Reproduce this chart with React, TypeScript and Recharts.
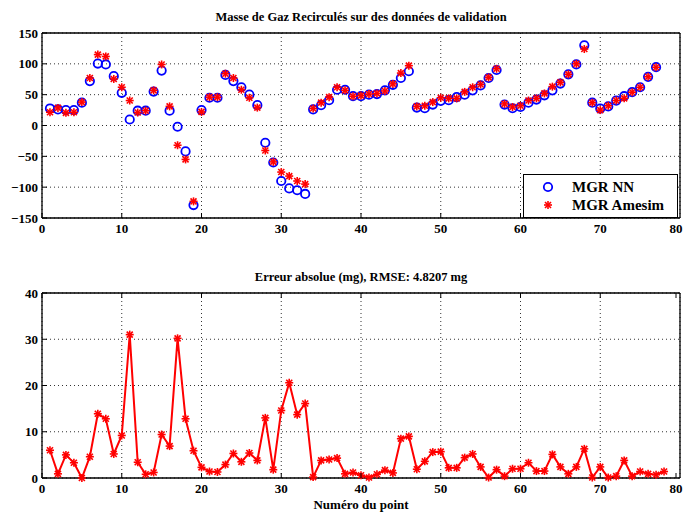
import React from "react";
import { ScatterChart, Scatter, LineChart, Line, XAxis, YAxis, CartesianGrid, Legend } from "recharts";

// valeurs (points 1..77 / 1..78)
const mgrNN = [
  27.6, 26, 25, 25, 37, 72, 100.5, 99, 80, 53,
  9.7, 24, 24, 55, 89, 24, -2, -42, -129, 25,
  45, 45, 82, 72, 62, 50, 33, -28, -60, -90,
  -102, -105, -111, 26, 33, 41, 58, 58, 47.5, 47.5,
  50, 51, 57, 66, 77, 88, 29, 28, 34, 40,
  41, 46, 50, 57, 65, 77, 90, 34, 28, 30,
  37, 42, 49, 57, 68, 83, 99, 130, 37, 27.5,
  31, 40.5, 47.5, 54, 62, 79, 94.5,
];
const mgrAmesim = [
  21.5, 28.5, 20.5, 21.5, 38, 77, 115, 112, 75.5, 62,
  40.5, 21, 24, 57, 99, 31, -32, -55, -123, 22,
  46, 46, 84, 77, 58, 45, 29, -40.5, -59, -75.5,
  -82, -90, -95, 27.5, 37, 46, 62, 57, 47.5, 48.5,
  51, 52, 56, 67.5, 85, 97, 31, 32, 38, 45,
  44, 44, 54.5, 62, 66.5, 78, 92, 35, 30, 32,
  40.5, 44, 52, 63, 70, 83, 100, 124, 37, 25,
  32, 40.5, 44, 54, 62, 79, 94.5,
];
const absError = [
  6.0, 0.9, 5.0, 3.3, 0.0, 4.6, 13.9, 12.8, 5.2, 9.2,
  31.0, 3.4, 0.8, 1.2, 9.4, 6.9, 30.2, 12.8, 5.9, 2.3,
  1.4, 1.3, 2.9, 5.3, 3.5, 5.4, 3.8, 13.0, 1.8, 14.6,
  20.6, 13.7, 16.1, 0.2, 3.8, 4.0, 4.3, 0.9, 1.2, 0.6,
  0.1, 0.8, 1.7, 1.1, 8.5, 9.0, 1.9, 3.6, 5.6, 5.7,
  2.2, 2.2, 4.4, 5.2, 2.4, 0.1, 1.8, 0.4, 2.0, 2.0,
  3.3, 1.5, 1.5, 5.1, 2.4, 0.9, 2.4, 6.3, 0.1, 2.4,
  0.1, 0.4, 3.8, 0.4, 1.4, 0.9, 0.7, 1.4,
];
const xTicks = [0, 10, 20, 30, 40, 50, 60, 70, 80];
const topYTicks = [-150, -100, -50, 0, 50, 100, 150];
const errYTicks = [0, 10, 20, 30, 40];

const nnPoints = mgrNN.map((v, i) => ({ x: i + 1, y: v }));
const amesimPoints = mgrAmesim.map((v, i) => ({ x: i + 1, y: v }));
const errRows = absError.map((v, i) => ({ x: i + 1, err: v }));

const FONT = "'Liberation Serif', 'DejaVu Serif', serif";
const BLUE = "#0000ff";
const RED = "#ff0000";

const fmt = (v: number) => (v < 0 ? "\u2212" + Math.abs(v) : String(v));

const BottomTick = (props: any) => {
  const { x, y, payload } = props;
  return (
    <g>
      <line x1={x} x2={x} y1={y} y2={y - 5} stroke="#000" />
      <text x={x} y={y + 15} textAnchor="middle" fontSize={13} fontWeight="bold" fontFamily={FONT} fill="#000">
        {fmt(payload.value)}
      </text>
    </g>
  );
};
const LeftTick = (props: any) => {
  const { x, y, payload } = props;
  return (
    <g>
      <line x1={x} x2={x + 5} y1={y} y2={y} stroke="#000" />
      <text x={x - 4} y={y + 4.5} textAnchor="end" fontSize={13} fontWeight="bold" fontFamily={FONT} fill="#000">
        {fmt(payload.value)}
      </text>
    </g>
  );
};
const TopTick = (props: any) => <line x1={props.x} x2={props.x} y1={props.y} y2={props.y + 5} stroke="#000" />;
const RightTick = (props: any) => <line x1={props.x} x2={props.x - 5} y1={props.y} y2={props.y} stroke="#000" />;

const Star = ({ cx, cy, s = 4 }: { cx: number; cy: number; s?: number }) => (
  <g stroke={RED} strokeWidth={1.6}>
    <line x1={cx - s} x2={cx + s} y1={cy} y2={cy} />
    <line x1={cx} x2={cx} y1={cy - s} y2={cy + s} />
    <line x1={cx - s * 0.75} x2={cx + s * 0.75} y1={cy - s * 0.75} y2={cy + s * 0.75} />
    <line x1={cx - s * 0.75} x2={cx + s * 0.75} y1={cy + s * 0.75} y2={cy - s * 0.75} />
  </g>
);
const OpenCircle = ({ cx, cy }: { cx: number; cy: number }) => (
  <circle cx={cx} cy={cy} r={4.2} fill="none" stroke={BLUE} strokeWidth={1.8} />
);

const LegendBox = () => (
  <div style={{ border: "1px solid #000", background: "#fff", width: 153, padding: "3px 0", fontFamily: FONT, fontWeight: "bold", fontSize: 15 }}>
    {[
      { label: "MGR NN", icon: <OpenCircle cx={12} cy={9} /> },
      { label: "MGR Amesim", icon: <Star cx={12} cy={9} /> },
    ].map((it) => (
      <div key={it.label} style={{ display: "flex", alignItems: "center", height: 18 }}>
        <svg width={42} height={18} style={{ marginLeft: 12 }}>{it.icon}</svg>
        <span style={{ marginLeft: -6 }}>{it.label}</span>
      </div>
    ))}
  </div>
);

const axisStroke = { stroke: "#000", strokeWidth: 1.3 };

const titleStyle: React.CSSProperties = {
  position: "absolute",
  left: 42,
  width: 638,
  textAlign: "center",
  fontFamily: FONT,
  fontWeight: "bold",
  fontSize: 12.5,
  lineHeight: "14px",
};

const axisCommon = { tickSize: 0, tickMargin: 0, axisLine: axisStroke, tickLine: false, type: "number" as const };

export default function App() {
  return (
    <div style={{ position: "relative", width: 684, height: 514, background: "#fff", overflow: "hidden" }}>
      <style>{"body{margin:0}"}</style>
      <div style={{ ...titleStyle, top: 10 }}>Masse de Gaz Recirculés sur des données de validation</div>
      <div style={{ position: "absolute", left: 0, top: 0 }}>
        <ScatterChart width={684} height={250} margin={{ top: 32, right: 3, bottom: 31, left: 41 }}>
          <CartesianGrid xAxisId="b" yAxisId="l" stroke="#333" strokeDasharray="1 3" />
          <XAxis xAxisId="b" {...axisCommon} dataKey="x" domain={[0, 80]} ticks={xTicks} height={1} tick={<BottomTick />} />
          <XAxis xAxisId="t" {...axisCommon} orientation="top" dataKey="x" domain={[0, 80]} ticks={xTicks} height={1} tick={<TopTick />} />
          <YAxis yAxisId="l" {...axisCommon} dataKey="y" domain={[-150, 150]} ticks={topYTicks} width={1} tick={<LeftTick />} />
          <YAxis yAxisId="r" {...axisCommon} orientation="right" dataKey="y" domain={[-150, 150]} ticks={topYTicks} width={1} tick={<RightTick />} />
          <Scatter name="MGR NN" xAxisId="b" yAxisId="l" data={nnPoints} isAnimationActive={false} shape={(p: any) => <OpenCircle cx={p.cx} cy={p.cy} />} />
          <Scatter name="MGR Amesim" xAxisId="b" yAxisId="l" data={amesimPoints} isAnimationActive={false} shape={(p: any) => <Star cx={p.cx} cy={p.cy} />} />
          <Legend layout="vertical" align="center" verticalAlign="middle" wrapperStyle={{ position: "absolute", left: 523, top: 174, width: 155 }} content={() => <LegendBox />} />
        </ScatterChart>
      </div>

      <div style={{ ...titleStyle, top: 270 }}>Erreur absolue (mg), RMSE: 4.8207 mg</div>
      <div style={{ position: "absolute", left: 0, top: 250 }}>
        <LineChart width={684} height={264} data={errRows} margin={{ top: 42, right: 3, bottom: 35, left: 41 }}>
          <CartesianGrid xAxisId="b" yAxisId="l" stroke="#333" strokeDasharray="1 3" />
          <XAxis xAxisId="b" {...axisCommon} dataKey="x" domain={[0, 80]} ticks={xTicks} height={1} tick={<BottomTick />} />
          <XAxis xAxisId="t" {...axisCommon} orientation="top" dataKey="x" domain={[0, 80]} ticks={xTicks} height={1} tick={<TopTick />} />
          <YAxis yAxisId="l" {...axisCommon} domain={[0, 40]} ticks={errYTicks} width={1} tick={<LeftTick />} />
          <YAxis yAxisId="r" {...axisCommon} orientation="right" domain={[0, 40]} ticks={errYTicks} width={1} tick={<RightTick />} />
          <Line xAxisId="b" yAxisId="l" dataKey="err" stroke={RED} strokeWidth={2} isAnimationActive={false}
            dot={(p: any) => <Star key={p.index} cx={p.cx} cy={p.cy} />} />
        </LineChart>
      </div>
      <div style={{ ...titleStyle, top: 498, fontSize: 13 }}>Numéro du point</div>
    </div>
  );
}
